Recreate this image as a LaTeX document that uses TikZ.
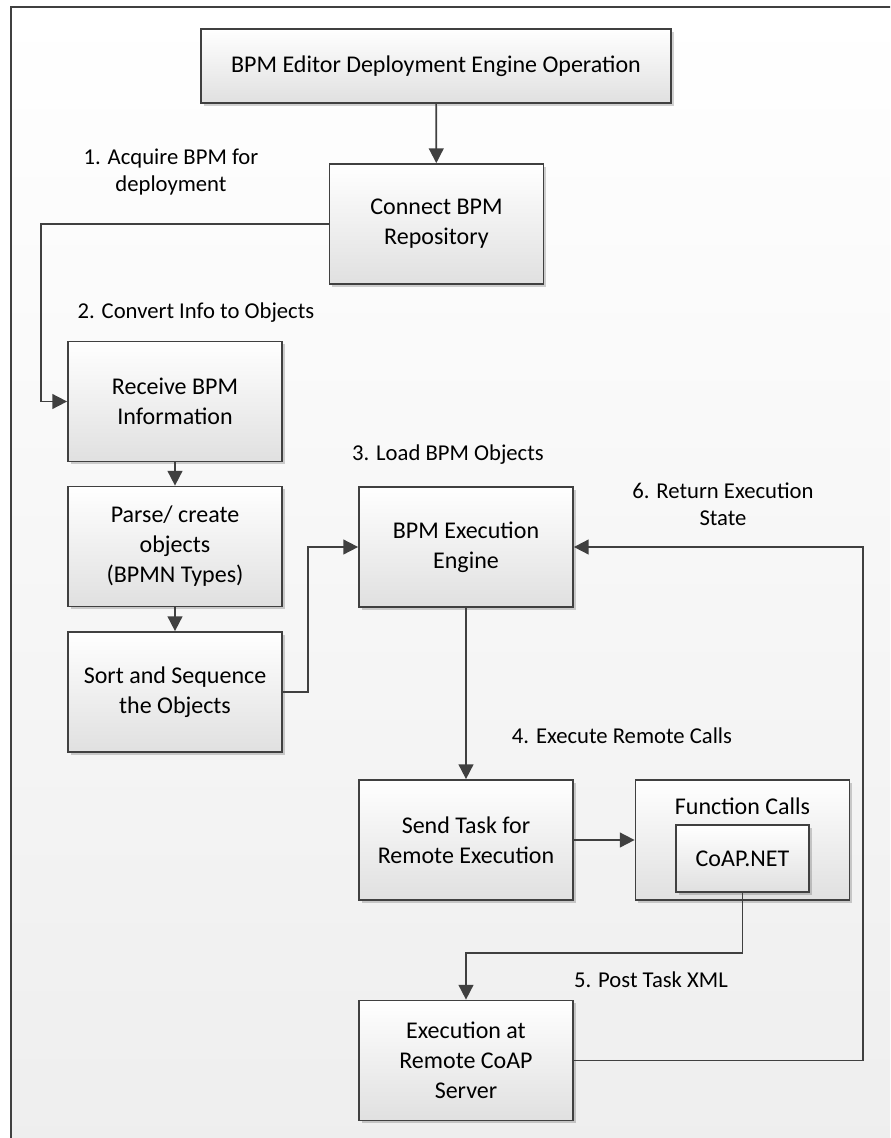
\documentclass[tikz,border=0pt]{standalone}
\usepackage{fontspec}
\setmainfont{Carlito}
\usetikzlibrary{arrows.meta,shadows}
\definecolor{dk}{RGB}{64,64,64}
\definecolor{bgb}{RGB}{238,238,238}
\definecolor{boxb}{RGB}{224,224,224}
\begin{document}
\begin{tikzpicture}[x=0.75pt,y=-0.75pt,
  box/.style={draw=dk, line width=1.3pt, top color=white, bottom color=boxb,
    minimum width=160.5pt, minimum height=90pt, align=center, inner sep=0pt,
    font=\fontsize{18}{22.5}\selectfont,
    drop shadow={shadow xshift=2pt, shadow yshift=-2pt, opacity=0.18, fill=black}},
  lbl/.style={align=center, inner sep=0pt, font=\fontsize{17}{20.25}\selectfont},
  conn/.style={draw=dk, line width=1.3pt, -{Triangle[length=11pt,width=11pt]}}
]
\useasboundingbox (0,0) rectangle (890,1138);
\begin{scope}
\clip (0,0) rectangle (890,1138);
\draw[dk, line width=1.5pt, top color=white, bottom color=bgb] (11,7.5) rectangle (910,1160);
\end{scope}

\node[box, minimum width=352.5pt, minimum height=55.5pt] (top) at (436,66) {BPM Editor Deployment Engine Operation};
\node[box] (conn) at (436.5,224) {Connect BPM\\Repository};
\node[box] (recv) at (175,401.5) {Receive BPM\\Information};
\node[box] (parse) at (175,546.5) {Parse/ create\\objects\\(BPMN Types)};
\node[box] (sort) at (175,692) {Sort and Sequence\\the Objects};
\node[box] (eng) at (466,547) {BPM Execution\\Engine};
\node[box] (send) at (466,840) {Send Task for\\Remote Execution};
\node[box] (fc) at (742.5,840) {};
\node[lbl, font=\fontsize{18}{22.5}\selectfont] (fclbl) at (742.5,806) {Function Calls};
\node[box, minimum width=100pt, minimum height=50pt] (coap) at (742.5,858.5) {CoAP.NET};
\node[box] (exec) at (466,1060.5) {Execution at\\Remote CoAP\\Server};

\node[lbl] (l1) at (171,172) {1. Acquire BPM for\\deployment};
\node[lbl] (l2) at (196,313) {2. Convert Info to Objects};
\node[lbl] (l3) at (448,455) {3. Load BPM Objects};
\node[lbl] (l6) at (723,504) {6. Return Execution\\State};
\node[lbl] (l4) at (622,736) {4. Execute Remote Calls};
\node[lbl] (l5) at (651,980) {5. Post Task XML};

\coordinate (lc) at (41,224);
\coordinate (rc) at (863,547);

\draw[conn] (top) -- (conn);
\draw[conn] (conn.west) -- (lc) |- (recv.west);
\draw[conn] (recv) -- (parse);
\draw[conn] (parse) -- (sort);
\draw[conn] (sort.east) -- ++(25,0) |- (eng.west);
\draw[conn] (eng) -- (send);
\draw[conn] (send) -- (fc);
\draw[conn] (coap.south) -- ++(0,60) -| (exec.north);
\draw[conn] (exec.east) -| (rc) -- (eng.east);
\end{tikzpicture}
\end{document}
